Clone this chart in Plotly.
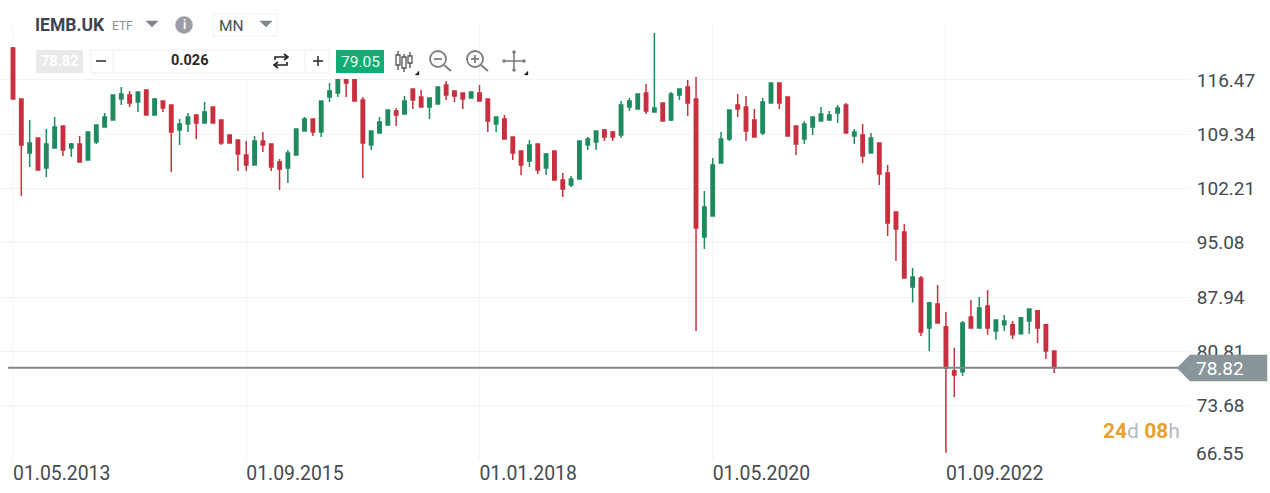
import pandas as pd
import plotly.graph_objects as go

months = [d.strftime("%d.%m.%Y") for d in pd.date_range("2013-05-01", periods=126, freq="MS")]
x_tick_labels = ["01.05.2013", "01.09.2015", "01.01.2018", "01.05.2020", "01.09.2022"]
y_ticks = [116.47, 109.34, 102.21, 95.08, 87.94, 80.81, 73.68, 66.55]
last_price_label = "78.82"
last_price_level = 78.66

opens = [120.67,113.97,106.88,108.85,104.91,107.54,110.43,107.54,108.06,105.96,
         108.33,110.30,111.21,113.97,114.50,113.58,115.15,111.87,113.71,113.18,
         109.90,110.69,111.87,110.82,112.92,111.21,109.25,108.59,106.62,105.31,
         108.46,108.06,105.70,104.91,106.62,109.77,111.35,109.64,114.23,114.76,
         116.99,116.73,113.84,107.93,109.51,110.56,112.40,112.00,115.29,114.23,
         112.92,113.32,115.81,115.02,114.76,114.10,114.76,113.97,110.69,111.35,
         108.98,107.14,105.83,108.06,104.91,107.14,103.34,102.68,103.47,107.93,
         108.33,109.90,109.64,109.25,112.92,112.66,114.76,112.26,113.45,111.21,
         114.50,115.55,113.97,95.85,98.61,105.57,108.72,113.18,112.92,111.21,
         109.51,113.45,116.07,114.23,110.43,108.72,110.30,111.08,111.21,112.13,
         113.18,109.11,109.25,106.88,108.19,104.26,99.13,96.51,89.29,90.47,
         83.90,87.05,84.04,78.26,78.13,85.35,83.90,86.79,83.51,84.30,
         84.30,83.12,84.82,86.14,84.30,80.88]
highs = [120.80,113.97,111.21,108.85,110.03,111.61,110.43,108.19,109.11,109.64,
         110.56,112.13,114.50,115.55,115.02,114.89,115.15,114.10,113.71,113.18,
         111.35,112.13,111.87,113.58,112.92,111.21,109.25,108.59,108.46,109.11,
         109.64,108.06,106.09,107.28,110.03,111.61,111.35,113.71,116.07,117.00,
         117.52,116.73,114.23,109.77,111.61,112.53,112.79,114.37,115.29,115.15,
         114.10,115.55,116.34,115.02,114.76,114.89,115.81,113.97,111.61,111.87,
         108.98,107.14,108.59,108.06,106.88,107.14,104.26,103.86,108.46,108.98,
         109.77,110.03,109.77,113.71,114.10,114.63,115.94,122.64,113.45,114.89,
         115.29,116.47,116.86,101.89,106.22,109.64,112.53,114.63,114.37,112.66,
         114.10,116.07,116.07,114.23,110.43,111.08,111.61,112.92,112.40,113.18,
         113.45,110.03,110.69,109.51,108.19,105.31,99.13,97.56,91.78,90.73,
         87.19,89.55,86.00,81.28,84.82,87.58,87.97,88.89,84.95,85.61,
         84.82,85.22,86.40,86.14,84.30,80.88]
lows = [113.97,101.24,105.04,104.65,103.73,107.54,106.49,106.36,105.70,105.96,
        108.06,110.30,111.21,113.18,112.92,112.26,111.87,111.87,112.26,104.39,
        107.93,109.64,108.72,110.82,110.82,107.93,108.19,104.52,104.52,105.31,
        107.01,104.52,102.02,102.94,106.62,109.77,109.11,108.98,113.58,114.23,
        114.23,113.71,103.60,107.28,109.51,110.56,110.43,112.00,112.66,112.92,
        111.35,113.32,113.84,113.58,112.66,114.10,113.71,109.64,109.64,108.72,
        105.96,103.99,105.04,104.12,103.99,103.34,101.10,102.42,103.47,107.28,
        107.28,108.46,108.46,108.85,112.40,112.66,112.00,112.26,111.08,111.08,
        113.84,111.74,83.51,94.27,98.61,105.57,108.46,111.61,108.46,108.98,
        109.25,113.45,112.66,109.11,106.62,108.06,109.25,111.08,111.21,110.82,
        109.51,108.06,105.57,106.88,102.68,95.98,92.70,90.47,87.19,82.85,
        80.88,84.56,67.49,74.84,77.60,83.90,83.90,82.99,82.33,83.51,
        82.46,83.12,83.12,81.93,79.83,77.99]
closes = [113.97,107.93,108.19,104.65,108.06,110.30,107.28,108.06,105.70,109.64,
          110.56,111.61,114.50,114.63,113.45,114.89,111.87,113.97,112.79,109.64,
          110.69,111.61,110.82,112.26,110.82,108.19,108.19,106.75,105.31,108.46,
          107.93,105.04,104.78,106.88,110.03,111.35,109.64,113.71,115.02,116.90,
          116.07,113.71,108.19,109.77,110.95,112.53,111.87,113.71,113.84,112.92,
          114.10,115.55,114.50,114.37,113.97,114.89,113.71,111.08,111.61,108.72,
          106.88,105.31,107.93,104.65,106.75,103.34,102.15,103.47,108.46,108.72,
          109.77,108.98,108.98,113.18,113.71,114.63,112.40,112.79,111.08,114.63,
          115.29,113.45,97.03,99.79,105.31,108.72,112.53,112.66,109.77,108.98,
          113.58,116.07,113.45,109.11,108.06,110.69,111.61,112.00,111.87,112.79,
          109.51,109.64,106.49,108.85,104.12,97.69,96.90,90.47,90.60,83.38,
          87.19,84.56,78.60,77.73,84.56,83.90,86.53,83.90,84.95,84.82,
          82.99,85.22,86.40,83.90,80.88,78.66]

RED, GREEN = "#c8303f", "#1f8a5f"
W, H, TOP, BOT, PLOT_R = 1270, 493, 25, 460, 1190
def px(x): return x / PLOT_R
def py(y): return 1 - (y - TOP) / (BOT - TOP)
def P(*pts):
    return "M" + " L".join(f"{px(a):.5f},{py(b):.5f}" for a, b in pts)

shapes, notes = [], []
def rect(x0, y0, x1, y1, fill, line=None, lw=1):
    shapes.append(dict(type="rect", xref="paper", yref="paper", x0=px(x0), x1=px(x1), y0=py(y0), y1=py(y1),
                       fillcolor=fill, line=dict(color=line or fill, width=lw if line else 0), layer="above"))
def path(pts, color, lw=1.5, fill=None):
    d = P(*pts) + (" Z" if fill else "")
    shapes.append(dict(type="path", xref="paper", yref="paper", path=d, fillcolor=fill,
                       line=dict(color=color, width=lw), layer="above"))
def circle(cx, cy, r, line, fill="rgba(0,0,0,0)", lw=1.8):
    shapes.append(dict(type="circle", xref="paper", yref="paper", x0=px(cx - r), x1=px(cx + r), y0=py(cy + r), y1=py(cy - r),
                       fillcolor=fill, line=dict(color=line, width=lw), layer="above"))
def text(x, y, s, size, color, anchor="left", family="Roboto"):
    notes.append(dict(x=px(x), y=py(y), xref="paper", yref="paper", text=s, showarrow=False, xanchor=anchor,
                      yanchor="middle", font=dict(size=size, color=color, family=family)))

# toolbar mask
rect(36, 25, 385, 79, "white")
# header
text(33, 25, "<b>IEMB.UK</b>", 17.5, "#3d4450")
text(110, 26, "ETF", 12, "#8a8f96")
path([(146, 21), (158, 21), (152, 27)], "#7f858c", 0.5, "#7f858c")
circle(184, 25, 8.5, "#9c9ca6", "#9c9ca6", 0.5)
text(184, 25, "<b>i</b>", 12, "white", "center")
rect(213, 14, 277, 36, "white", "#eeeeee", 1)
text(217, 26, "MN", 15.5, "#4a4f57")
path([(260, 21), (272, 21), (266, 27)], "#7f858c", 0.5, "#7f858c")
# row 2
rect(36, 50, 83, 73, "#e9e9e9")
text(59.5, 61.5, "<b>78.82</b>", 14.5, "#ffffff", "center")
rect(91, 50, 329, 73, "white", "#eeeeee", 1)
path([(113, 52), (113, 71)], "#eeeeee", 1)
path([(305, 52), (305, 71)], "#eeeeee", 1)
path([(96, 61), (106, 61)], "#333333", 1.6)
text(190, 61, "<b>0.026</b>", 14.5, "#26292e", "center")
path([(275, 60), (275, 57), (287, 57)], "#222222", 1.6)
path([(284, 54), (288, 57), (284, 60)], "#222222", 1.6)
path([(287, 62), (287, 65), (275, 65)], "#222222", 1.6)
path([(278, 62), (274, 65), (278, 68)], "#222222", 1.6)
path([(318, 56), (318, 66)], "#333333", 1.6)
path([(313, 61), (323, 61)], "#333333", 1.6)
rect(336, 50, 384, 73, "#11ad74")
text(360, 61.5, "79.05", 15.5, "#e6fff4", "center")
# candle icon
for cx, a, b, c, d in [(398, 51, 55, 65, 70), (404, 54, 57, 68, 72), (410, 52, 56, 63, 68)]:
    path([(cx, a), (cx, d)], "#555555", 1.4)
    rect(cx - 2, b, cx + 2, c, "white", "#555555", 1.3)
# zoom icons
for cx, plus in [(438, False), (475, True)]:
    circle(cx, 59, 8, "#7c7f82")
    path([(cx + 6, 65), (cx + 13, 71)], "#7c7f82", 2)
    path([(cx - 4, 59), (cx + 4, 59)], "#7c7f82", 1.8)
    if plus:
        path([(cx, 55), (cx, 63)], "#7c7f82", 1.8)
# move icon
path([(504, 61), (524, 61)], "#7c7f82", 1.6)
path([(514, 52), (514, 70)], "#7c7f82", 1.6)
for a in [(504, 61), (524, 61), (514, 52), (514, 70)]:
    circle(a[0], a[1], 1.5, "#7c7f82", "#7c7f82", 0.5)
path([(415, 75), (419, 75), (419, 71)], "#222222", 0.3, "#222222")
path([(524, 75), (528, 75), (528, 71)], "#222222", 0.3, "#222222")

# price line and tag
shapes.append(dict(type="line", xref="paper", yref="y", x0=px(8), x1=px(1180), y0=last_price_level, y1=last_price_level,
                   line=dict(color="#7f898c", width=2), layer="above"))
path([(1177, 368), (1190, 355), (1267, 355), (1267, 381), (1190, 381)], "#8a9599", 0.5, "#8a9599")
text(1194, 368.5, last_price_label, 19, "#ffffff")
text(1194, 453, "66.55", 19, "#444a50")
text(1101, 431, '<span style="color:#e8a02e"><b>24</b></span><span style="color:#b4b9c2">d</span>'
               '<span style="color:#e8a02e"><b> 08</b></span><span style="color:#b4b9c2">h</span>', 21, "#e8a02e")

fig = go.Figure(go.Candlestick(
    x=months, open=opens, high=highs, low=lows, close=closes,
    increasing=dict(line=dict(color=GREEN, width=1.5), fillcolor=GREEN),
    decreasing=dict(line=dict(color=RED, width=1.5), fillcolor=RED),
    hoverinfo="skip",
))
fig.update_layout(
    width=W, height=H, autosize=False, showlegend=False, boxgap=0.42,
    margin=dict(l=0, r=W - PLOT_R, t=TOP, b=H - BOT, pad=0),
    paper_bgcolor="white", plot_bgcolor="white",
    font=dict(family="Roboto", size=19, color="#444a50"),
    shapes=shapes, annotations=notes,
    xaxis=dict(type="category", categoryorder="array", categoryarray=months,
               range=[-1.56, 141.3], rangeslider=dict(visible=False),
               tickmode="array", tickvals=x_tick_labels, ticktext=x_tick_labels,
               ticklabelposition="outside right", tickfont=dict(size=19.4),
               showgrid=True, gridcolor="#f3f3f3", gridwidth=1, zeroline=False, showline=False, ticks=""),
    yaxis=dict(side="right", range=[66.55, 123.69], tickmode="array", tickvals=y_ticks,
               ticktext=[f"{v:.2f}" if v != y_ticks[-1] else " " for v in y_ticks],
               showgrid=True, gridcolor="#f3f3f3", gridwidth=1, zeroline=False, showline=False,
               ticks="outside", ticklen=2, tickcolor="rgba(0,0,0,0)"),
)
fig.write_html("out.html", config=dict(displayModeBar=False),
               post_script="document.body.style.margin='0';")
